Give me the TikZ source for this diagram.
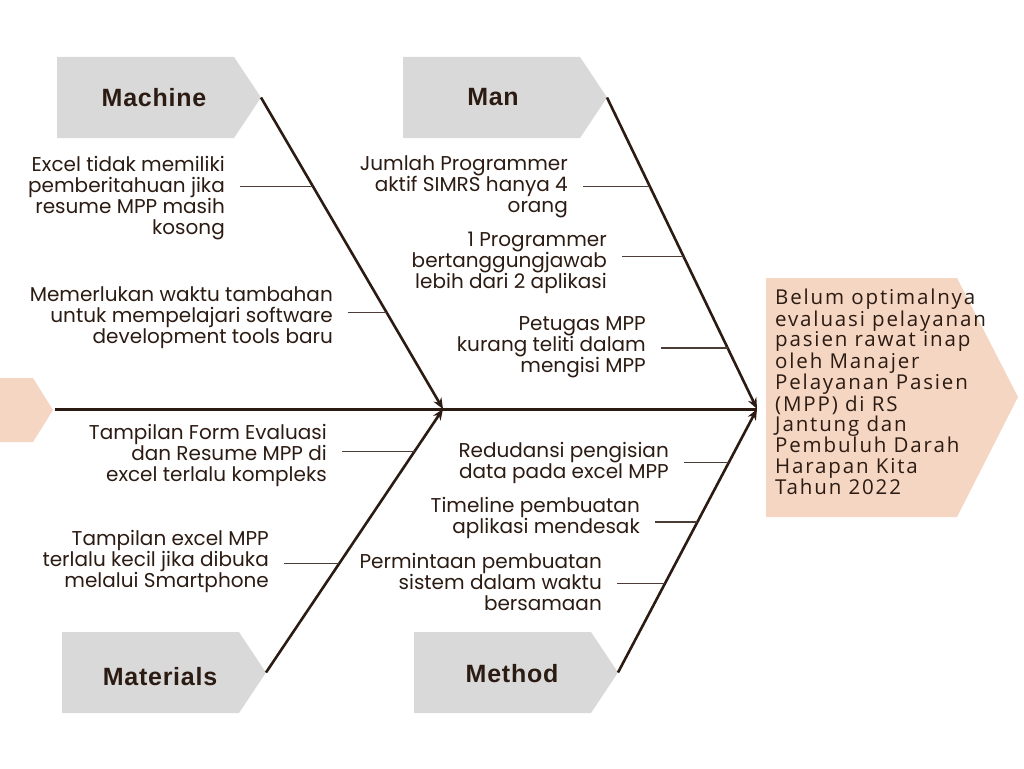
\documentclass[tikz,border=0pt]{standalone}
\usepackage{fontspec}
\setmainfont{Poppins}
\newfontfamily\headfont{Liberation Sans}[LetterSpace=3]
\newfontfamily\effectfont{Open Sans}[LetterSpace=9]
\usetikzlibrary{arrows.meta}
\definecolor{ink}{HTML}{2B1B12}
\definecolor{boxgray}{HTML}{D9D9D9}
\definecolor{peach}{HTML}{F5D6C3}
\tikzset{
    bone/.style={draw=ink, line width=2.6pt, -{Stealth[length=11pt,width=9pt]}},
    spine/.style={draw=ink, line width=3pt},
    twig/.style={draw=ink!85, line width=1.1pt, shorten <=15pt},
    cause/.style={align=right, anchor=east, inner sep=0pt, text=ink, font=\fontsize{20}{21}\selectfont},
    head/.style={text=ink, font=\headfont\bfseries\fontsize{25}{29}\selectfont},
}

\begin{document}
\begin{tikzpicture}[x=1pt, y=-1pt]
                \useasboundingbox (0,0) rectangle (1024,768);

                % Category boxes
                \foreach \nm/\txt/\x/\y/\dx/\dy in {machine/Machine/57/57/97/0, man/Man/403/57/90/0, materials/Materials/62/632/98/4, method/Method/414/632/98/1} {
                    \fill[boxgray] (\x,\y) -- ++(177,0) -- ++(27,40.5) -- ++(-27,40.5) -- ++(-177,0) -- cycle;
                    \node[head] (\nm) at (\x+\dx,\y+40.5+\dy) {\txt};
                    \coordinate (\nm-tip) at (\x+204,\y+40.5);
                }

                % Tail and effect
                \fill[peach] (-20,378) -- (33,378) -- (53,410) -- (33,442) -- (-20,442) -- cycle;
                \coordinate (tail) at (55,409);
                \fill[peach] (766,278) -- (957,278) -- (1018,397) -- (957,517) -- (766,517) -- cycle;
                \node[anchor=west, align=left, inner sep=0pt, text=ink, font=\effectfont\fontsize{20.5}{20.3}\selectfont] (effect) at (775,392) {
                    Belum optimalnya\\ evaluasi pelayanan\\ pasien rawat inap\\ oleh Manajer\\ Pelayanan Pasien\\ (MPP) di RS\\ Jantung dan\\ Pembuluh Darah\\ Harapan Kita\\ Tahun 2022
                };

                % Spine
                \coordinate (jointA) at (443,409);
                \coordinate (jointB) at (757,409);
                \draw[spine] (tail) -- (jointB);

                % Bones
                \draw[bone] (machine-tip) -- coordinate[pos=.286] (m1b) coordinate[pos=.691] (m2b) (jointA);
                \draw[bone] (man-tip) -- coordinate[pos=.286] (n1b) coordinate[pos=.511] (n2b) coordinate[pos=.804] (n3b) (jointB);
                \draw[bone] (materials-tip) -- coordinate[pos=.414] (t2b) coordinate[pos=.839] (t1b) (jointA);
                \draw[bone] (method-tip) -- coordinate[pos=.337] (h3b) coordinate[pos=.571] (h2b) coordinate[pos=.797] (h1b) (jointB);

                % Causes
                \node[cause] (mach1) at (225,198) {Excel tidak memiliki\\ pemberitahuan jika\\ resume MPP masih\\ kosong};
                \node[cause] (mach2) at (333,318) {Memerlukan waktu tambahan\\ untuk mempelajari software\\ development tools baru};
                \node[cause] (man1) at (568,187) {Jumlah Programmer\\ aktif SIMRS hanya 4\\ orang};
                \node[cause] (man2) at (607,263) {1 Programmer\\ bertanggungjawab\\ lebih dari 2 aplikasi};
                \node[cause] (man3) at (646,347) {Petugas MPP\\ kurang teliti dalam\\ mengisi MPP};
                \node[cause] (mat1) at (327,455) {Tampilan Form Evaluasi\\ dan Resume MPP di\\ excel terlalu kompleks};
                \node[cause] (mat2) at (269,561) {Tampilan excel MPP\\ terlalu kecil jika dibuka\\ melalui Smartphone};
                \node[cause] (meth1) at (669,463) {Redudansi pengisian\\ data pada excel MPP};
                \node[cause] (meth2) at (640,518) {Timeline pembuatan\\ aplikasi mendesak};
                \node[cause] (meth3) at (602,582) {Permintaan pembuatan\\ sistem dalam waktu\\ bersamaan};

                % Twigs
                \draw[twig] (mach1.east |- m1b) -- (m1b);
                \draw[twig] (mach2.east |- m2b) -- (m2b);
                \draw[twig] (man1.east |- n1b) -- (n1b);
                \draw[twig] (man2.east |- n2b) -- (n2b);
                \draw[twig] (man3.east |- n3b) -- (n3b);
                \draw[twig] (mat1.east |- t1b) -- (t1b);
                \draw[twig] (mat2.east |- t2b) -- (t2b);
                \draw[twig] (meth1.east |- h1b) -- (h1b);
                \draw[twig] (meth2.east |- h2b) -- (h2b);
                \draw[twig] (meth3.east |- h3b) -- (h3b);
\end{tikzpicture}
\end{document}
